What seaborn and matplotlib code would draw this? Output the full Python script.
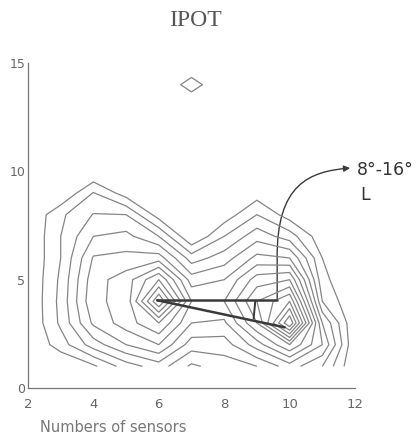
import numpy as np
import matplotlib
matplotlib.use("Agg")
import matplotlib.pyplot as plt
from matplotlib.path import Path
from matplotlib.patches import FancyArrowPatch
import seaborn as sns

# Grid of sensor positions (x) and heights (y)
x_vals = [2, 3, 4, 5, 6, 7, 8, 9, 10, 11, 12]
y_vals = list(range(1, 16))

# Measured intensity on the grid, one row per y value (bottom to top)
row_y1 = [0, 0, 0.8, 2.5, 3.5, 1.8, 2.5, 3.0, 4.5, 3.0, 0]
row_y2 = [0, 1.5, 3.5, 5.0, 6.0, 3.5, 3.5, 5.5, 8.0, 5.0, 0]
row_y3 = [0, 2.2, 5.2, 6.5, 8.0, 5.0, 4.8, 8.0, 14.0, 4.0, 0]
row_y4 = [0, 2.3, 5.8, 6.3, 12.0, 6.0, 6.0, 9.0, 11.0, 2.0, 0]
row_y5 = [0, 2.2, 5.6, 6.5, 9.0, 4.5, 5.0, 7.5, 8.0, 1.3, 0]
row_y6 = [0, 2.0, 5.1, 5.3, 5.5, 2.5, 3.5, 5.3, 5.0, 1.0, 0]
row_y7 = [0, 2.0, 4.0, 4.3, 3.0, 0.0, 2.0, 3.6, 2.5, 0.3, 0]
row_y8 = [0, 1.8, 3.05, 3.0, 0.5, 0.0, 0.4, 2.0, 0.5, 0, 0]
row_y9 = [0, 0, 2.05, 0.5, 0, 0, 0, 0.5, 0, 0, 0]
row_y10 = [0] * 11
row_y11 = [0] * 11
row_y12 = [0] * 11
row_y13 = [0] * 11
row_y14 = [0, 0, 0, 0, 0, 1.5, 0, 0, 0, 0, 0]
row_y15 = [0] * 11

levels = list(range(1, 14))

# Overlay lines linking the two maxima
horiz_x = [5.95, 9.62]
horiz_y = [4.05, 4.05]
diag_x = [5.95, 9.85]
diag_y = [4.05, 2.8]
vert_x = [8.95, 8.9]
vert_y = [4.0, 3.2]

x_ticks = [2, 4, 6, 8, 10, 12]
y_ticks = [0, 5, 10, 15]

sns.set_style("white")
plt.rcParams["font.family"] = ["DejaVu Sans"]

Z = np.array([row_y1, row_y2, row_y3, row_y4, row_y5, row_y6, row_y7, row_y8,
              row_y9, row_y10, row_y11, row_y12, row_y13, row_y14, row_y15])
X, Y = np.meshgrid(x_vals, y_vals)

fig = plt.figure(figsize=(4.16, 4.41), dpi=100)
ax = fig.add_axes([28 / 416, 1 - 388 / 441, 327 / 416, 325 / 441])

ax.contour(X, Y, Z, levels=levels, colors="#858585", linewidths=0.9)

ax.plot(horiz_x, horiz_y, color="#3a3a3a", lw=1.8, solid_capstyle="round")
ax.plot(diag_x, diag_y, color="#3a3a3a", lw=1.8, solid_capstyle="round")
ax.plot(vert_x, vert_y, color="#3a3a3a", lw=1.4)

# Curved pointer from the corner up to the angle label
verts = [(9.62, 4.05), (9.62, 6.0), (9.6, 9.4), (10.6, 10.0), (11.85, 10.15)]
codes = [Path.MOVETO, Path.LINETO, Path.CURVE4, Path.CURVE4, Path.CURVE4]
arrow = FancyArrowPatch(path=Path(verts, codes), arrowstyle="-|>",
                        mutation_scale=9, color="#3a3a3a", lw=1.0)
ax.add_patch(arrow)

ax.set_xlim(2, 12)
ax.set_ylim(0, 15)
ax.set_xticks(x_ticks)
ax.set_yticks(y_ticks)
ax.tick_params(axis="x", direction="in", length=3, width=0.8, colors="#777777",
               labelsize=9.5, labelcolor="#666666", pad=7)
ax.tick_params(axis="y", direction="in", length=3, width=0.8, colors="#777777",
               labelsize=9, labelcolor="#666666", pad=2)
sns.despine(ax=ax)
for side in ("left", "bottom"):
    ax.spines[side].set_color("#777777")
    ax.spines[side].set_linewidth(0.9)

fig.text(195 / 416, 1 - 20 / 441, "IPOT", ha="center", va="center",
         fontsize=17, color="#555555", family=["Liberation Serif", "DejaVu Serif"])
fig.text(40 / 416, 1 - 428 / 441, "Numbers of sensors", ha="left", va="center",
         fontsize=10.5, color="#777777")
fig.text(357 / 416, 1 - 170 / 441, "8°-16°", ha="left", va="center",
         fontsize=12.5, color="#333333")
fig.text(360 / 416, 1 - 195 / 441, "L", ha="left", va="center",
         fontsize=12.5, color="#333333")

fig.savefig("out.png", dpi=100)
